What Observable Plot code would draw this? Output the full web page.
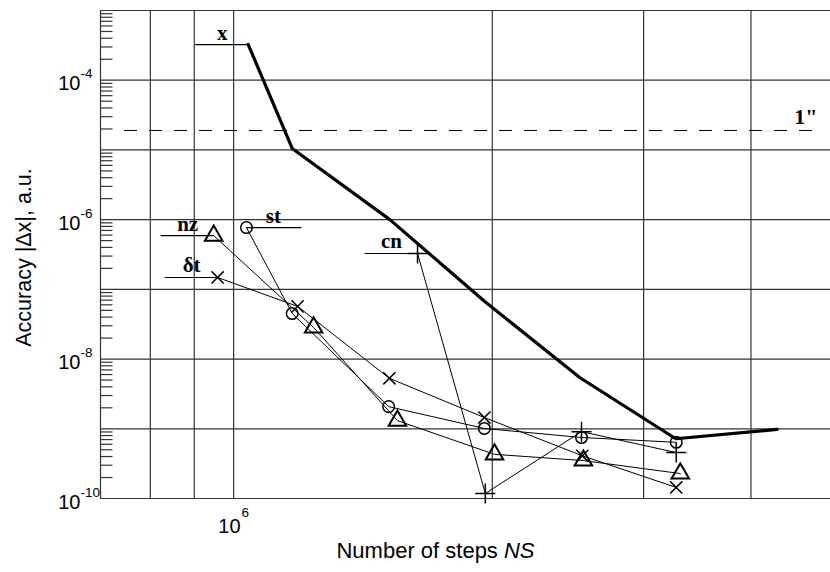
<!DOCTYPE html>
<html>
<head>
<meta charset="utf-8">
<script src="https://cdn.jsdelivr.net/npm/d3@7"></script>
<script src="https://cdn.jsdelivr.net/npm/@observablehq/plot@0.6"></script>
<style>
  html, body { margin: 0; padding: 0; background: #fff; }
  #chart { width: 830px; height: 572px; }
</style>
</head>
<body>
<div id="chart"></div>
<script>
// Number of integration steps NS for each run, and the resulting error |Δx| (a.u.)
const nsX   = [1.04e6, 1.17e6, 1.52e6, 1.96e6, 2.53e6, 3.27e6, 4.29e6];
const errX  = [3.25e-4, 1.05e-5, 1.0e-6, 6.7e-8, 5.4e-9, 7.2e-10, 9.8e-10];

const nsSt  = [1.035e6, 1.17e6, 1.515e6, 1.958e6, 2.54e6, 3.274e6];
const errSt = [7.7e-7, 4.5e-8, 2.08e-9, 1.01e-9, 7.5e-10, 6.4e-10];

const nsNz  = [0.948e6, 1.239e6, 1.551e6, 2.012e6, 2.553e6, 3.31e6];
const errNz = [5.9e-7, 2.84e-8, 1.31e-9, 4.3e-10, 3.5e-10, 2.28e-10];

const nsDt  = [0.958e6, 1.187e6, 1.518e6, 1.958e6, 2.546e6, 3.274e6];
const errDt = [1.48e-7, 5.7e-8, 5.3e-9, 1.45e-9, 4.1e-10, 1.44e-10];

const nsCn  = [1.637e6, 1.963e6, 2.54e6, 3.274e6];
const errCn = [3.27e-7, 1.18e-10, 9.1e-10, 4.56e-10];

// Series names written next to the first point of each curve
const seriesNames = ["x", "st", "nz", "δt", "cn"];

// Level of one arcsecond
const arcsecLevel = 1.9e-5;
const arcsecLabel = "1\"";

// Axis ticks and grid
const xDomain = [7e5, 4.95e6];
const yDomain = [1e-10, 1e-3];
const xGrid = [8e5, 9e5, 1e6, 2e6, 3e6, 4e6];
const yGrid = [1e-10, 1e-9, 1e-8, 1e-7, 1e-6, 1e-5, 1e-4, 1e-3];
const xLabelTicks = [1e6];
const yLabelTicks = [1e-4, 1e-6, 1e-8, 1e-10];
const yMinorSteps = [2, 3, 4, 5, 6, 7, 8, 9];

const xTitleMain = "Number of steps ";
const xTitleVar = "NS";
const yTitle = "Accuracy |Δx|, a.u.";

// ---- build tables from the arrays ----
const toRows = (xs, ys) => xs.map((x, i) => ({x, y: ys[i]}));
const rowsX = toRows(nsX, errX);
const rowsSt = toRows(nsSt, errSt);
const rowsNz = toRows(nsNz, errNz);
const rowsDt = toRows(nsDt, errDt);
const rowsCn = toRows(nsCn, errCn);

const firstPoints = [rowsX, rowsSt, rowsNz, rowsDt, rowsCn].map((rows, i) => ({...rows[0], name: seriesNames[i]}));
const labelsLeft = firstPoints.filter(d => d.name !== "st");
const labelsRight = firstPoints.filter(d => d.name === "st");

const yMinor = [];
for (const decade of yGrid.slice(0, -1)) for (const m of yMinorSteps) yMinor.push(m * decade);

// short horizontal strokes drawn as custom symbols (pixel lengths)
const hStroke = (from, to) => ({draw(ctx) { ctx.moveTo(from, 0); ctx.lineTo(to, 0); }});

const sans = "Liberation Sans, Arial, Helvetica, sans-serif";
const serif = "Liberation Serif, Times New Roman, serif";
const gridColor = "#333";

const chart = Plot.plot({
  width: 830,
  height: 572,
  marginTop: 10,
  marginLeft: 100,
  marginRight: 0,
  marginBottom: 74,
  x: {type: "log", domain: xDomain, axis: null},
  y: {type: "log", domain: yDomain, axis: null},
  style: {fontFamily: sans, background: "#fff", color: "#000", overflow: "visible"},
  marks: [
    // grid and frame
    Plot.ruleX(xGrid, {x: d => d, stroke: gridColor, strokeWidth: 1.2}),
    Plot.ruleX([xDomain[0]], {x: d => d, stroke: gridColor, strokeWidth: 1.2}),
    Plot.ruleY(yGrid, {y: d => d, stroke: gridColor, strokeWidth: 1.2}),
    Plot.dot(yMinor, {y: d => d, frameAnchor: "left", symbol: hStroke(0, 12), r: 4, fill: "none", stroke: gridColor, strokeWidth: 1.2}),

    // one-arcsecond level
    Plot.ruleY([arcsecLevel], {y: d => d, insetLeft: 24, insetRight: 7, stroke: "#000", strokeWidth: 1, strokeDasharray: "13,12"}),
    Plot.text([arcsecLevel], {y: d => d, frameAnchor: "right", text: () => arcsecLabel, textAnchor: "end", lineAnchor: "bottom", dx: -13, dy: -6, fontFamily: serif, fontWeight: "bold", fontSize: 22}),

    // thin connecting lines
    Plot.line(rowsSt, {x: "x", y: "y", stroke: "#000", strokeWidth: 1}),
    Plot.line(rowsNz, {x: "x", y: "y", stroke: "#000", strokeWidth: 1}),
    Plot.line(rowsDt, {x: "x", y: "y", stroke: "#000", strokeWidth: 1}),
    Plot.line(rowsCn, {x: "x", y: "y", stroke: "#000", strokeWidth: 1}),

    // markers
    Plot.dot(rowsSt, {x: "x", y: "y", symbol: "circle", r: 5.8, fill: "none", stroke: "#000", strokeWidth: 1.5}),
    Plot.dot(rowsNz, {x: "x", y: "y", symbol: "triangle", r: 6.5, fill: "none", stroke: "#000", strokeWidth: 2}),
    Plot.dot(rowsDt, {x: "x", y: "y", symbol: "times", r: 5.6, fill: "none", stroke: "#000", strokeWidth: 1.5}),
    Plot.dot(rowsCn, {x: "x", y: "y", symbol: "plus", r: 6.5, fill: "none", stroke: "#000", strokeWidth: 1.5}),

    // thick curve
    Plot.line(rowsX, {x: "x", y: "y", stroke: "#000", strokeWidth: 3.2, strokeLinejoin: "miter"}),

    // series names with leader strokes
    Plot.dot(labelsLeft, {x: "x", y: "y", symbol: hStroke(-53, 0), r: 4, fill: "none", stroke: "#000", strokeWidth: 1.2}),
    Plot.dot(labelsRight, {x: "x", y: "y", symbol: hStroke(0, 55), r: 4, fill: "none", stroke: "#000", strokeWidth: 1.2}),
    Plot.text(labelsLeft, {x: "x", y: "y", text: "name", dx: -26, dy: -5, lineAnchor: "bottom", fontFamily: serif, fontWeight: "bold", fontSize: 21}),
    Plot.text(labelsRight, {x: "x", y: "y", text: "name", dx: 27, dy: -5, lineAnchor: "bottom", fontFamily: serif, fontWeight: "bold", fontSize: 21}),

    // y tick labels: 10 with a raised exponent
    Plot.text(yLabelTicks, {y: d => d, frameAnchor: "left", text: () => "10", textAnchor: "end", lineAnchor: "bottom", dx: -20, dy: 10, fontSize: 20}),
    Plot.text(yLabelTicks, {y: d => d, frameAnchor: "left", text: d => String(Math.round(Math.log10(d))), textAnchor: "start", lineAnchor: "bottom", dx: -20, dy: -2, fontSize: 13.5}),

    // x tick labels
    Plot.text(xLabelTicks, {x: d => d, frameAnchor: "bottom", text: () => "10", textAnchor: "end", lineAnchor: "bottom", dx: 7, dy: 34, fontSize: 20}),
    Plot.text(xLabelTicks, {x: d => d, frameAnchor: "bottom", text: d => String(Math.round(Math.log10(d))), textAnchor: "start", lineAnchor: "bottom", dx: 8, dy: 18, fontSize: 13.5}),

    // axis titles
    Plot.text([yTitle], {frameAnchor: "left", text: d => d, rotate: -90, textAnchor: "middle", lineAnchor: "middle", dx: -76, dy: 3, fontSize: 21.5}),
    Plot.text([xTitleMain + xTitleVar], {frameAnchor: "bottom", text: d => d, textAnchor: "middle", lineAnchor: "bottom", dx: -30, dy: 59, fontSize: 22})
  ]
});

// italic variable name in the x-axis title
d3.select(chart).selectAll("text")
  .filter(function () { return this.textContent === xTitleMain + xTitleVar; })
  .each(function () {
    const t = d3.select(this);
    t.text(null);
    t.append("tspan").text(xTitleMain);
    t.append("tspan").attr("font-style", "italic").text(xTitleVar);
  });

document.getElementById("chart").appendChild(chart);
</script>
</body>
</html>
